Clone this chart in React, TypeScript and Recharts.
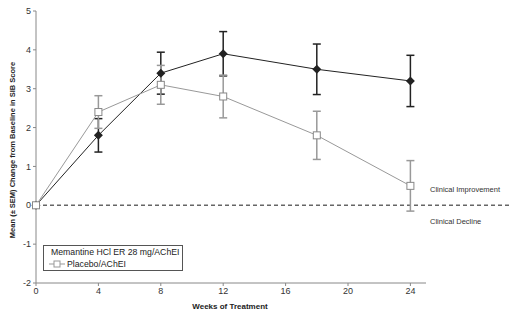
import { LineChart, Line, XAxis, YAxis, ErrorBar, ReferenceLine } from 'recharts'

const weeks = [0, 4, 8, 12, 18, 24]
const memantine = [0, 1.8, 3.4, 3.9, 3.5, 3.2]
const memantineSem = [0, 0.43, 0.54, 0.57, 0.65, 0.66]
const placebo = [0, 2.4, 3.1, 2.8, 1.8, 0.5]
const placeboSem = [0, 0.42, 0.5, 0.55, 0.62, 0.65]
const xTicks = [0, 4, 8, 12, 16, 20, 24]
const yTicks = [-2, -1, 0, 1, 2, 3, 4, 5]

const data = weeks.map((w, i) => ({
  week: w,
  mem: memantine[i],
  memErr: memantineSem[i],
  pla: placebo[i],
  plaErr: placeboSem[i],
}))

const font = 'Arial, "Liberation Sans", sans-serif'

function Diamond(props: any) {
  const { cx, cy } = props
  if (cx == null || cy == null) return null
  const r = 4.5
  return <path d={`M${cx},${cy - r}L${cx + r},${cy}L${cx},${cy + r}L${cx - r},${cy}Z`} fill="#222" />
}

function Square(props: any) {
  const { cx, cy } = props
  if (cx == null || cy == null) return null
  return <rect x={cx - 3.5} y={cy - 3.5} width={7} height={7} fill="#fff" stroke="#888" strokeWidth={1} />
}

function LegendBox() {
  const row = { display: 'flex', alignItems: 'center', height: 12, whiteSpace: 'nowrap' as const }
  return (
    <div
      style={{
        position: 'absolute',
        left: 43,
        top: 245,
        boxSizing: 'border-box',
        border: '1px solid #555',
        background: '#fff',
        padding: '0px 4px 0px 5px',
        fontFamily: font,
        fontSize: 8.7,
        color: '#222',
        width: 140,
        height: 26,
      }}
    >
      <div style={row}>
        <svg width={16} height={10}>
          <line x1={0} y1={5} x2={16} y2={5} stroke="#222" />
          <path d="M8,2L11,5L8,8L5,5Z" fill="#222" />
        </svg>
        <span style={{ marginLeft: 2 }}>Memantine HCl ER 28 mg/AChEI</span>
      </div>
      <div style={row}>
        <svg width={16} height={10}>
          <line x1={0} y1={5} x2={16} y2={5} stroke="#999" />
          <rect x={5} y={2} width={6} height={6} fill="#fff" stroke="#999" />
        </svg>
        <span style={{ marginLeft: 2 }}>Placebo/AChEI</span>
      </div>
    </div>
  )
}

export default function App() {
  return (
    <div style={{ position: 'absolute', left: 0, top: 0, width: 510, height: 321, background: '#fff' }}>
      <LineChart width={510} height={321} data={data} margin={{ top: 11, right: 84, bottom: 18, left: 6 }}>
        <XAxis
          dataKey="week"
          type="number"
          domain={[0, 25]}
          ticks={xTicks}
          tick={{ fill: '#333', fontSize: 9, fontFamily: font }}
          stroke="#888"
          tickSize={3}
          height={20}
        />
        <YAxis
          type="number"
          domain={[-2, 5]}
          ticks={yTicks}
          tick={{ fill: '#333', fontSize: 9, fontFamily: font }}
          stroke="#888"
          tickSize={3}
          width={30}
        />
        <ReferenceLine
          segment={[{ x: 0, y: 0 }, { x: 37.5, y: 0 }]}
          ifOverflow="visible"
          stroke="#666"
          strokeWidth={1.5}
          strokeDasharray="4 3"
        />
        <Line
          dataKey="mem"
          stroke="#222"
          strokeWidth={1}
          dot={<Diamond />}
          activeDot={false}
          isAnimationActive={false}
        >
          <ErrorBar dataKey="memErr" direction="y" width={4} stroke="#222" strokeWidth={1.5} />
        </Line>
        <Line
          dataKey="pla"
          stroke="#999"
          strokeWidth={1}
          dot={<Square />}
          activeDot={false}
          isAnimationActive={false}
        >
          <ErrorBar dataKey="plaErr" direction="y" width={4} stroke="#999" strokeWidth={1.5} />
        </Line>
      </LineChart>
      <LegendBox />
      <div
        style={{
          position: 'absolute',
          left: 12,
          top: 150,
          transform: 'translate(-50%, -50%) rotate(-90deg)',
          whiteSpace: 'nowrap',
          fontFamily: font,
          fontSize: 7.5,
          fontWeight: 'bold',
          color: '#222',
        }}
      >
        Mean (± SEM) Change from Baseline in SIB Score
      </div>
      <div
        style={{
          position: 'absolute',
          left: 230,
          top: 306,
          transform: 'translate(-50%, -50%)',
          whiteSpace: 'nowrap',
          fontFamily: font,
          fontSize: 8,
          fontWeight: 'bold',
          color: '#222',
        }}
      >
        Weeks of Treatment
      </div>
      <div style={{ position: 'absolute', left: 430, top: 185, fontFamily: font, fontSize: 7.5, color: '#333' }}>
        Clinical Improvement
      </div>
      <div style={{ position: 'absolute', left: 430, top: 217, fontFamily: font, fontSize: 7.5, color: '#333' }}>
        Clinical Decline
      </div>
    </div>
  )
}
